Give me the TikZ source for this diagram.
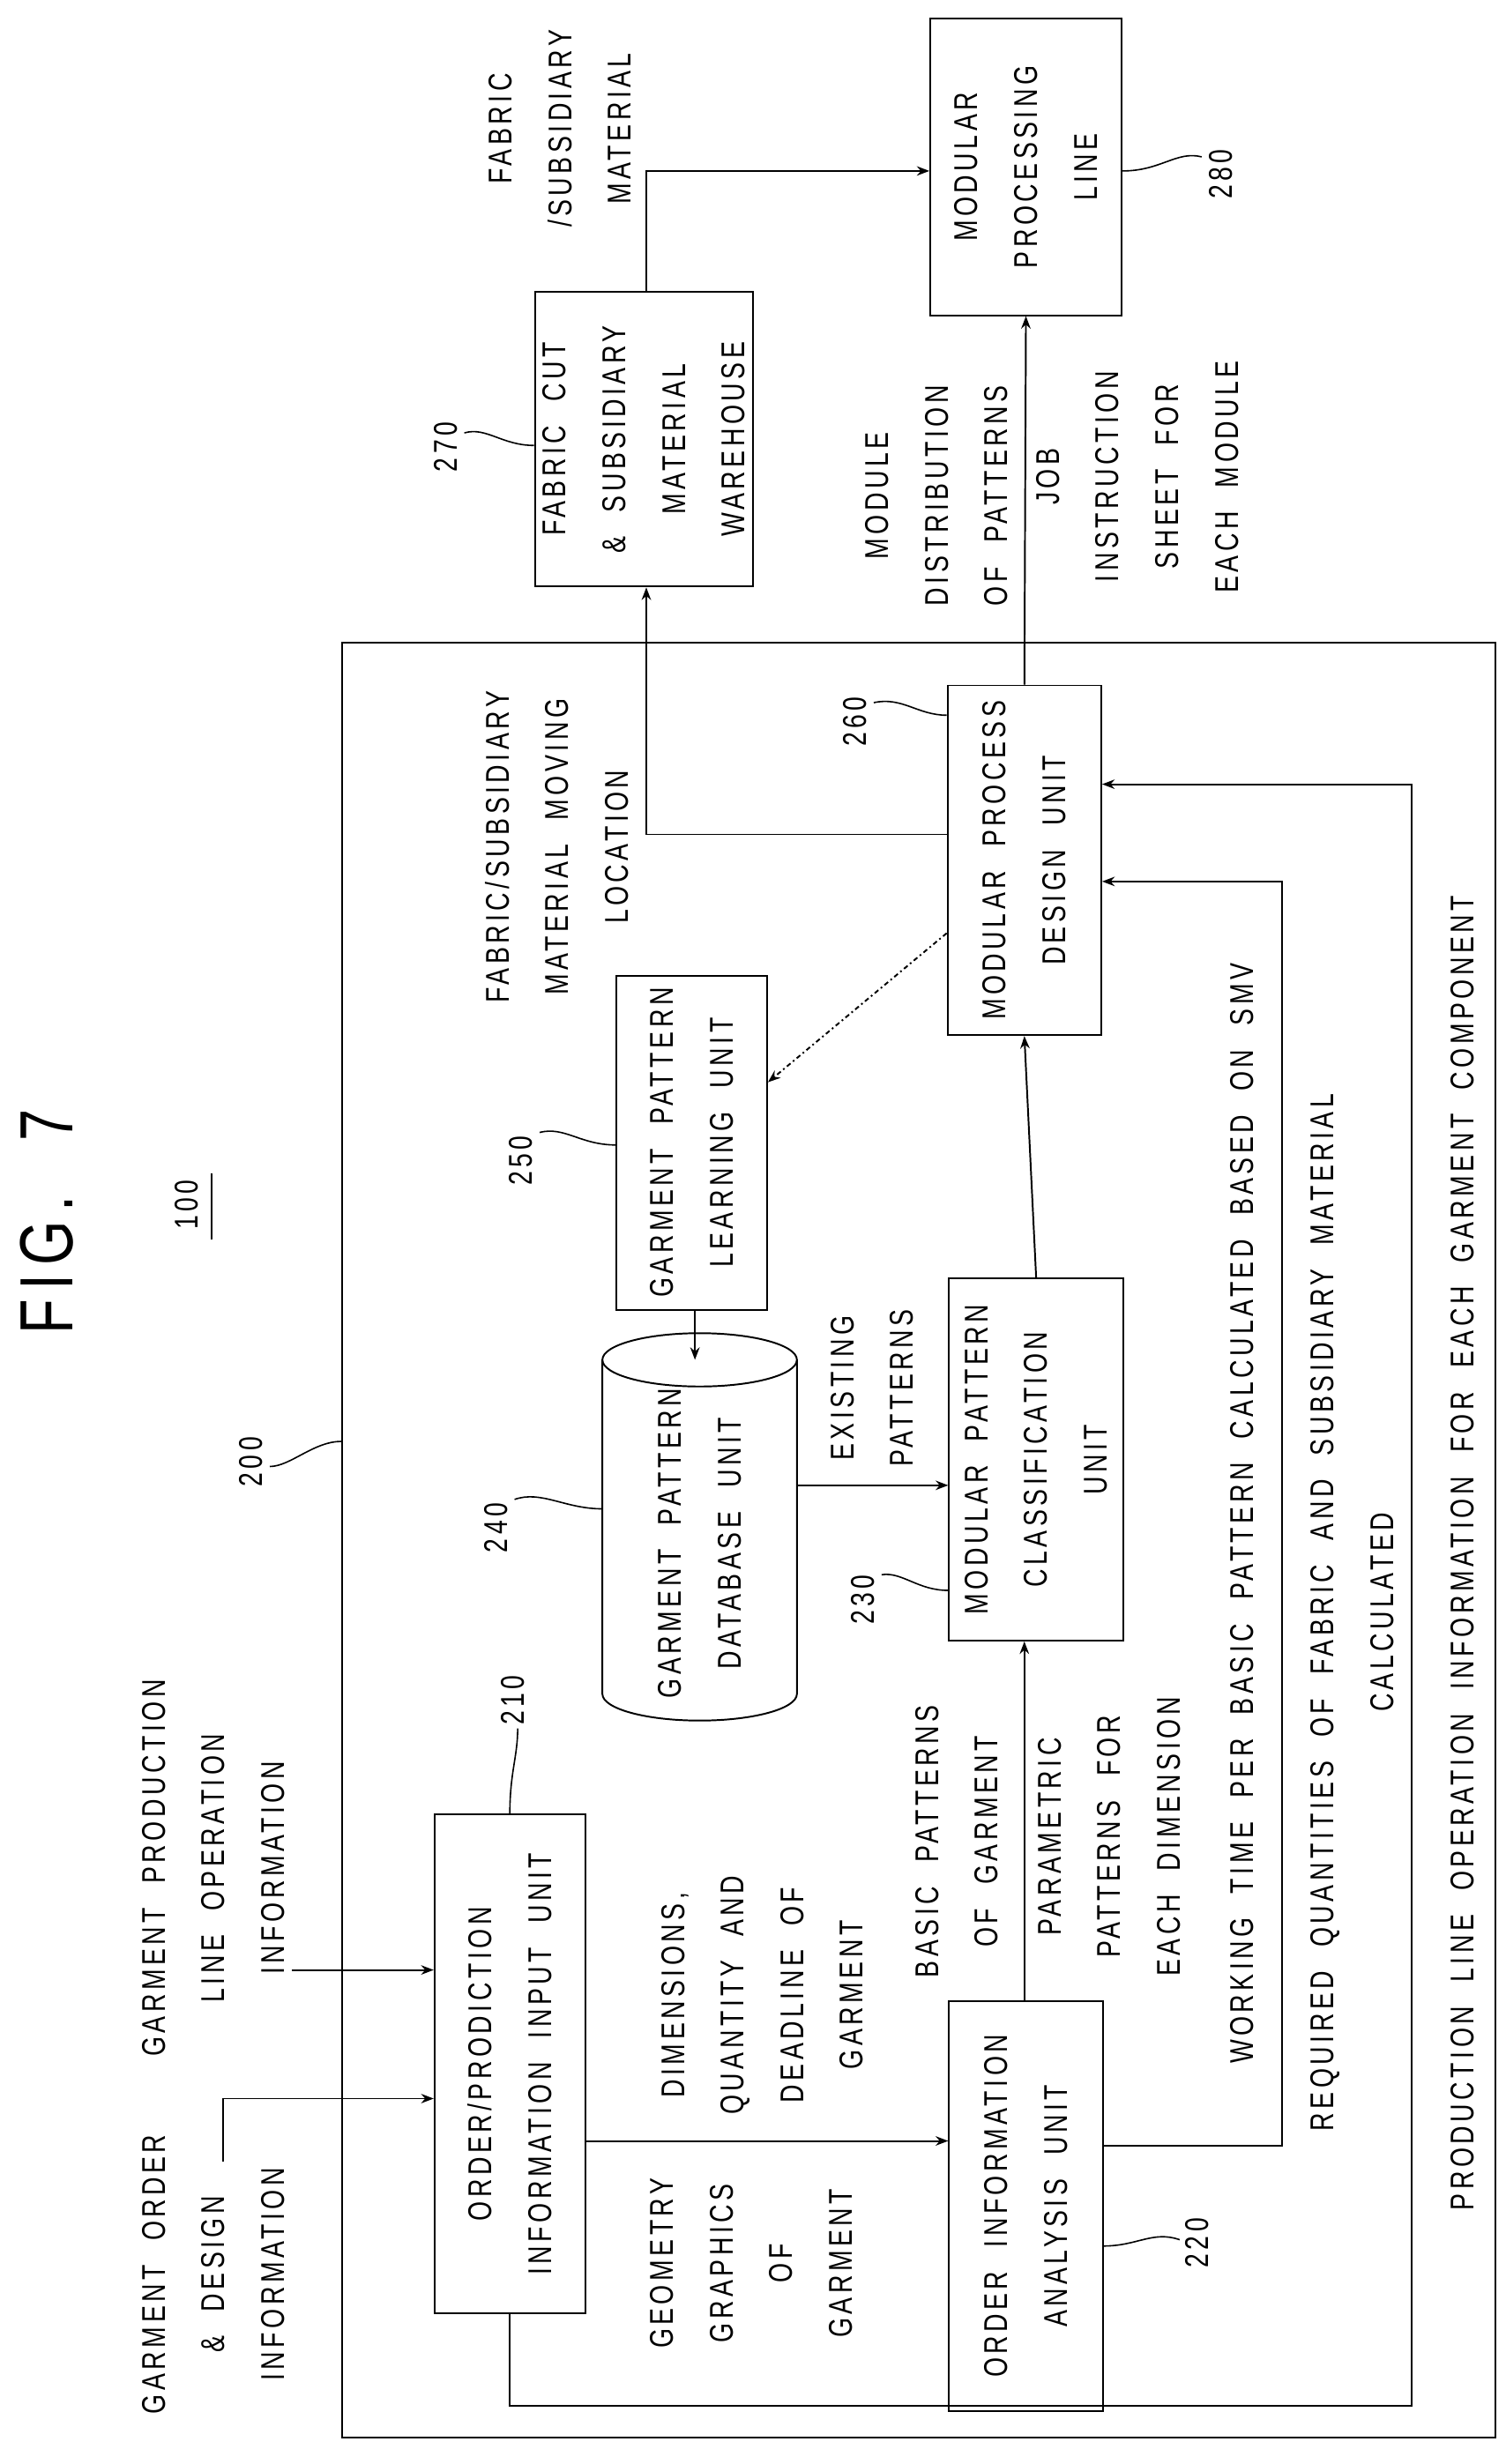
\documentclass[tikz,border=0pt]{standalone}
\usepackage{fontspec}
\setmainfont{Liberation Sans}[FakeStretch=0.76,LetterSpace=12,WordSpace=2.2]
\usetikzlibrary{arrows.meta,calc}
\begin{document}
\begin{tikzpicture}[x=1pt,y=-1pt,line width=1.1pt,
  box/.style={draw,rectangle,inner sep=0pt},
  txt/.style={rotate=90,align=center,font=\fontsize{21}{38}\selectfont,inner sep=0pt},
  lbl/.style={rotate=90,font=\fontsize{21}{38}\selectfont,inner sep=0pt},
  arr/.style={-{Stealth[length=8pt,width=6pt]}},
  lead/.style={line width=0.9pt}]
\useasboundingbox (0,0) rectangle (960,1571);
% outer box
\node[box,minimum width=735pt,minimum height=1144pt] (b200) at (585.5,982) {};
% boxes
\node[box,minimum width=96pt,minimum height=318pt] (b210) at (325,1316) {};
\node[txt] at (b210) {ORDER/PRODICTION\\INFORMATION INPUT UNIT};
\node[box,minimum width=98pt,minimum height=261pt] (b220) at (654,1406.5) {};
\node[txt] at (b220) {ORDER INFORMATION\\ANALYSIS UNIT};
\node[box,minimum width=111pt,minimum height=231pt] (b230) at (660.5,930.5) {};
\node[txt] at (b230) {MODULAR PATTERN\\CLASSIFICATION\\UNIT};
\node[box,minimum width=96pt,minimum height=213pt] (b250) at (441,728.5) {};
\node[txt] at (b250) {GARMENT PATTERN\\LEARNING UNIT};
\node[box,minimum width=98pt,minimum height=223pt] (b260) at (653,548.5) {};
\node[txt] at (b260) {MODULAR PROCESS\\DESIGN UNIT};
\node[box,minimum width=139pt,minimum height=188pt] (b270) at (410.5,280) {};
\node[txt] at (b270) {FABRIC CUT\\\& SUBSIDIARY\\MATERIAL\\WAREHOUSE};
\node[box,minimum width=122pt,minimum height=189pt] (b280) at (654,106.5) {};
\node[txt] at (b280) {MODULAR\\PROCESSING\\LINE};
% cylinder 240
\node[minimum width=124pt,minimum height=222pt,inner sep=0pt] (c240) at (446,978) {};
\draw (384,867) -- (384,1080) arc[x radius=62,y radius=17,start angle=180,end angle=0] -- (508,867);
\draw (446,867) ellipse[x radius=62,y radius=17];
\node[txt] at (446,984) {GARMENT PATTERN\\DATABASE UNIT};
% title
\node[lbl,font=\fontsize{48}{50}\selectfont] at (30,779) {FIG. 7};
\node[lbl] (n100) at (119,768) {100};
\draw[line width=0.9pt] (135,748) -- (135,790);
% inputs
\coordinate (in1) at (142,1378);
\node[txt] (t1) at (136,1450) {GARMENT ORDER\\\& DESIGN\\INFORMATION};
\draw[arr] (in1) -- (142,1338) -- (b210.west |- 0,1338);
\node[txt] (t2) at (136,1191) {GARMENT PRODUCTION\\LINE OPERATION\\INFORMATION};
\coordinate (in2) at (186,1256);
\draw[arr] (in2) -- (b210.west |- in2);
% connectors
\draw[arr] (b210.east |- 0,1365) -- (b220.west |- 0,1365);
\node[txt] at (479,1443) {GEOMETRY\\GRAPHICS\\OF\\GARMENT};
\node[txt] at (486,1272) {DIMENSIONS,\\QUANTITY AND\\DEADLINE OF\\GARMENT};
\draw[arr] (b220.north -| 653,0) -- (b230.south -| 653,0);
\node[txt] at (610,1174) {BASIC PATTERNS\\OF GARMENT};
\node[txt] at (707,1171) {PARAMETRIC\\PATTERNS FOR\\EACH DIMENSION};
\draw[arr] (c240.east |- 0,947) -- (b230.west |- 0,947);
\node[txt] at (556,885) {EXISTING\\PATTERNS};
\draw[arr] (b250.south -| 443,0) -- (443,867);
\draw[arr] (b230.north) -- (b260.south);
\draw[arr,dash dot] (b260.west |- 0,595) -- (b250.east |- 0,690);
\draw[arr] (b260.west |- 0,532) -- (412,532) -- (b270.south -| 412,0);
\node[txt] at (355,540) {FABRIC/SUBSIDIARY\\MATERIAL MOVING\\LOCATION};
\draw[arr] (b260.north) -- (b280.south);
\node[txt] at (597,316) {MODULE\\DISTRIBUTION\\OF PATTERNS};
\node[txt] at (725,304) {JOB\\INSTRUCTION\\SHEET FOR\\EACH MODULE};
\draw[arr] (b270.north -| 412,0) -- (412,109) -- (b280.west |- 0,109);
\node[txt] at (357,82) {FABRIC\\/SUBSIDIARY\\MATERIAL};
% feedback
\draw[arr] (b220.east |- 0,1368) -- (817,1368) -- (817,562) -- (b260.east |- 0,562);
\node[lbl] at (792,965) {WORKING TIME PER BASIC PATTERN CALCULATED BASED ON SMV};
\draw[arr] (b210.south -| 325,0) -- (325,1534) -- (900,1534) -- (900,500) -- (b260.east |- 0,500);
\node[txt] at (862,1028) {REQUIRED QUANTITIES OF FABRIC AND SUBSIDIARY MATERIAL\\CALCULATED};
\node[lbl] at (932,990) {PRODUCTION LINE OPERATION INFORMATION FOR EACH GARMENT COMPONENT};
% reference numerals
\node[lbl] (n200) at (160,932) {200};
\draw[lead] (b200.west |- 0,919) .. controls (200,919) and (185,935) .. (172,935);
\node[lbl] (n210) at (327,1084) {210};
\draw[lead] (b210.north) .. controls (325,1130) and (330,1120) .. (330,1102);
\node[lbl] (n220) at (763,1430) {220};
\draw[lead] (b220.east |- 0,1432) .. controls (725,1432) and (735,1422) .. (752,1428);
\node[lbl] (n230) at (550,1020) {230};
\draw[lead] (b230.west |- 0,1014) .. controls (585,1014) and (575,1002) .. (562,1004);
\node[lbl] (n240) at (316,974) {240};
\draw[lead] (384,962) .. controls (360,962) and (345,950) .. (328,956);
\node[lbl] (n250) at (332,740) {250};
\draw[lead] (b250.west |- 0,730) .. controls (370,730) and (360,718) .. (344,722);
\node[lbl] (n260) at (545,460) {260};
\draw[lead] (b260.west |- 0,456) .. controls (585,456) and (575,444) .. (557,448);
\node[lbl] (n270) at (284,285) {270};
\draw[lead] (b270.west |- 0,284) .. controls (320,284) and (310,272) .. (296,276);
\node[lbl] (n280) at (778,111) {280};
\draw[lead] (b280.east |- 0,109) .. controls (740,109) and (750,96) .. (766,100);
\end{tikzpicture}
\end{document}
